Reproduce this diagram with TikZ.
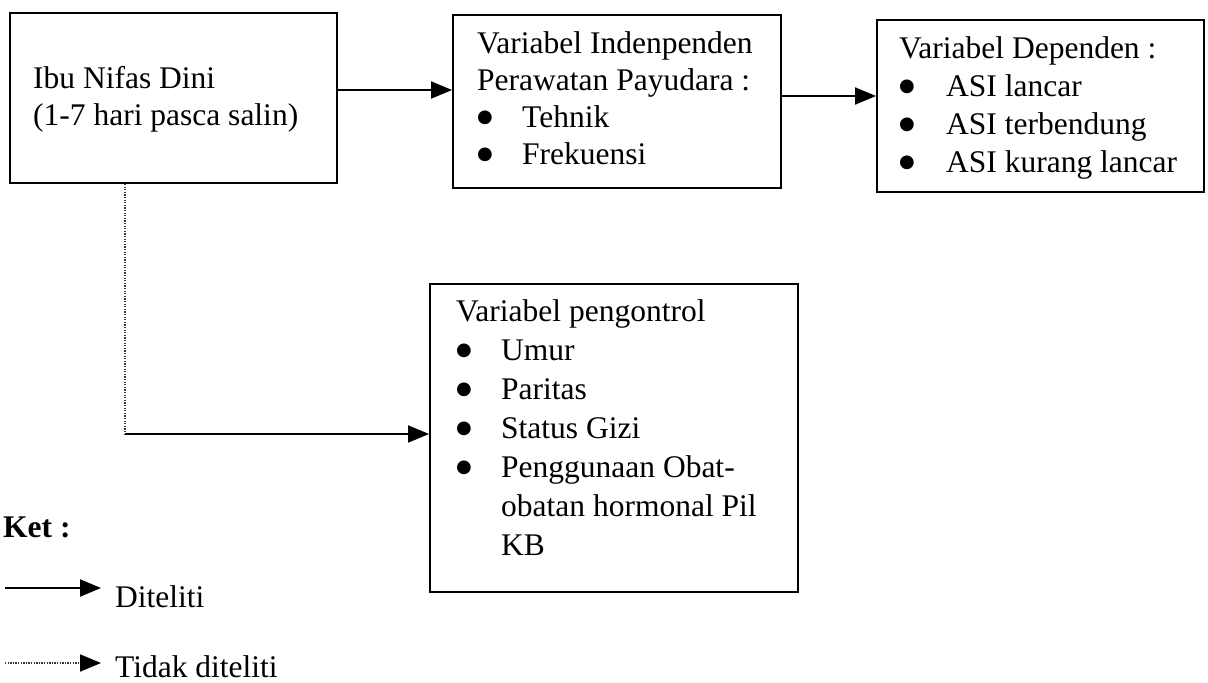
\documentclass[tikz,border=0pt]{standalone}
\usepackage{fontspec}
\setmainfont{Liberation Serif}
\newfontfamily\symfont{DejaVu Sans}
\usetikzlibrary{arrows.meta}
\tikzset{
  box/.style={draw, line width=1.9pt, rectangle, inner sep=0pt},
  txt/.style={anchor=base west, inner sep=0pt, font=\fontsize{31.5}{38}\selectfont},
  arr/.style={line width=1.9pt, -{Triangle[length=21pt,width=17pt]}},
  dotline/.style={line width=1.3pt, dash pattern=on 1.3pt off 1.3pt, black!80},
}
\newcommand{\bigbul}{\raisebox{4.5pt}{\symfont\fontsize{18}{18}\selectfont ●}}
\newcommand{\bul}{\makebox[45pt][l]{\bigbul}}
\begin{document}
\begin{tikzpicture}[x=1pt,y=-1pt]
\useasboundingbox (0,0) rectangle (1208,683);
% boxes
\node[box, minimum width=327pt, minimum height=170pt] (b1) at (173.5,98) {};
\node[box, minimum width=328pt, minimum height=173pt] (b2) at (617,101.5) {};
\node[box, minimum width=327pt, minimum height=172pt] (b3) at (1040.5,106) {};
\node[box, minimum width=368pt, minimum height=308pt] (b4) at (614,438) {};
% box 1 text
\node[txt] (t11) at (33,88) {Ibu Nifas Dini};
\node[txt] (t12) at (33,125) {(1-7 hari pasca salin)};
% box 2 text
\node[txt] (t21) at (477,53) {Variabel Indenpenden};
\node[txt] (t22) at (477,90) {Perawatan Payudara :};
\node[txt] (t23) at (477,127) {\bul Tehnik};
\node[txt] (t24) at (477,164) {\bul Frekuensi};
% box 3 text
\node[txt] (t31) at (899,58) {Variabel Dependen :};
\node[txt] (t32) at (899,96) {\makebox[47pt][l]{\bigbul}ASI lancar};
\node[txt] (t33) at (899,134) {\makebox[47pt][l]{\bigbul}ASI terbendung};
\node[txt] (t34) at (899,172) {\makebox[47pt][l]{\bigbul}ASI kurang lancar};
% box 4 text
\node[txt] (t41) at (456,321) {Variabel pengontrol};
\node[txt] (t42) at (456,360) {\bul Umur};
\node[txt] (t43) at (456,399) {\bul Paritas};
\node[txt] (t44) at (456,438) {\bul Status Gizi};
\node[txt] (t45) at (456,477) {\bul Penggunaan Obat-};
\node[txt] (t46) at (501,516) {obatan hormonal Pil};
\node[txt] (t47) at (501,555) {KB};
% connectors
\coordinate (y1) at (0,90);
\coordinate (y2) at (0,96);
\draw[arr] (b1.east |- y1) -- (b2.west |- y1);
\draw[arr] (b2.east |- y2) -- (b3.west |- y2);
\coordinate (d0) at (125,183);
\coordinate (dc) at (125,434);
\draw[dotline] (b1.south -| d0) -- (dc);
\draw[arr] (dc) -- (b4.west |- dc);
% legend
\node[txt, font=\fontsize{31.5}{38}\selectfont\bfseries] (ket) at (3,537) {Ket :};
\coordinate (l1s) at (5,588);
\coordinate (l1e) at (101,588);
\draw[arr] (l1s) -- (l1e);
\node[txt] (lg1) at (115,607) {Diteliti};
\coordinate (l2s) at (5,663);
\coordinate (l2e) at (82,663);
\coordinate (l2t) at (101,663);
\draw[dotline] (l2s) -- (l2e);
\draw[arr] (l2e) -- (l2t);
\node[txt] (lg2) at (115,677) {Tidak diteliti};
\end{tikzpicture}
\end{document}
